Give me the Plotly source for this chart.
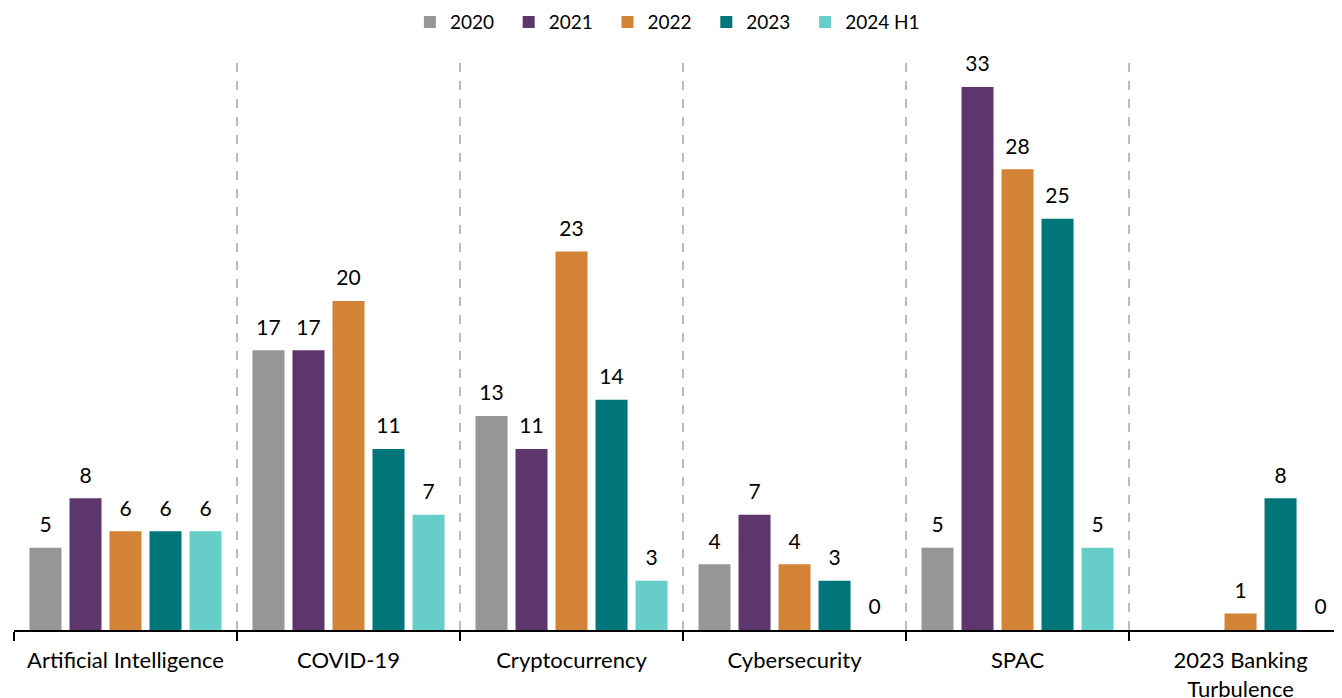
import plotly.graph_objects as go

categories = ["Artificial Intelligence", "COVID-19", "Cryptocurrency",
              "Cybersecurity", "SPAC", "2023 Banking<br>Turbulence"]

series_names = ["2020", "2021", "2022", "2023", "2024 H1"]
v2020 = [5, 17, 13, 4, 5, None]
v2021 = [8, 17, 11, 7, 33, None]
v2022 = [6, 20, 23, 4, 28, 1]
v2023 = [6, 11, 14, 3, 25, 8]
v2024h1 = [6, 7, 3, 0, 5, 0]

COLORS = ["#969696", "#5E366E", "#D38335", "#00757A", "#66CDC9"]
FONT = "Lato, 'Open Sans', sans-serif"
PAD = "\u00a0\u00a0"  # a little extra room between legend entries

fig = go.Figure()
all_series = [v2020, v2021, v2022, v2023, v2024h1]
for i, (name, vals, color) in enumerate(zip(series_names, all_series, COLORS)):
    label = name + (PAD if i < len(series_names) - 1 else "")
    fig.add_trace(go.Bar(
        x=categories, y=vals, name=label, offsetgroup=name,
        marker=dict(color=color, line=dict(width=0)),
    ))

# value labels: grouped scatter text so the gap above the bars can be set via marker size
for name, vals in zip(series_names, all_series):
    fig.add_trace(go.Scatter(
        x=categories, y=vals, offsetgroup=name, showlegend=False,
        mode="markers+text", text=[("" if v is None else str(v)) for v in vals],
        textposition="top center", cliponaxis=False, hoverinfo="skip",
        marker=dict(size=15, color="rgba(0,0,0,0)"),
        textfont=dict(size=21, color="#000000", family=FONT),
    ))

# dashed separators between categories
for i in range(len(categories) - 1):
    fig.add_shape(type="line", xref="x", yref="paper", x0=i + 0.5, x1=i + 0.5,
                  y0=0, y1=0.98, line=dict(color="#A6A6A6", width=1.5, dash="dash"))

fig.update_layout(
    width=1334, height=690,
    barmode="group", bargap=0.103, bargroupgap=0.2,
    scattermode="group", scattergap=0.103,
    plot_bgcolor="white", paper_bgcolor="white",
    margin=dict(l=6, r=0, t=42, b=68, autoexpand=False),
    font=dict(family=FONT, size=20, color="#000000"),
    showlegend=True,
    legend=dict(orientation="h", xanchor="center", x=0.492, yanchor="middle", y=1.048,
                font=dict(size=19), itemwidth=30, traceorder="normal"),
)
# the last category runs past the right edge in the original
fig.update_xaxes(range=[-0.5, 5.455], showline=True, linecolor="#000000", linewidth=1.5,
                 ticks="outside", tickson="boundaries", ticklen=9, tickwidth=1.5,
                 tickcolor="#000000", tickfont=dict(size=22), ticklabelstandoff=10,
                 automargin=False)
fig.update_yaxes(range=[0, 35.25], visible=False, automargin=False)

fig.write_html("out.html")
